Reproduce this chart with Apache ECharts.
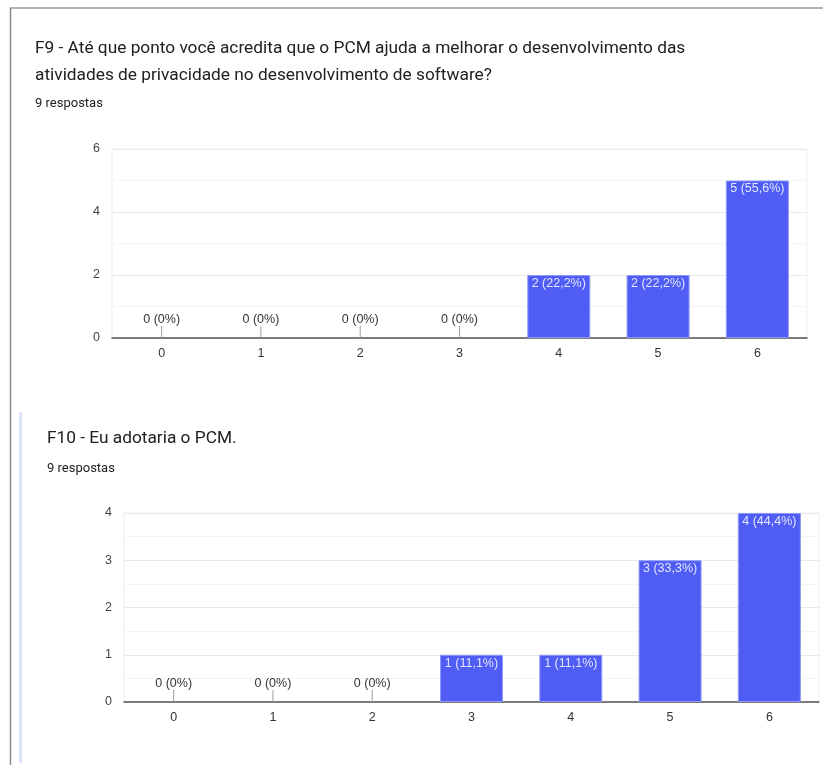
<!DOCTYPE html>
<html>
<head>
<meta charset="utf-8">
<style>
  html, body { margin: 0; padding: 0; background: #ffffff; }
  #chart { width: 823px; height: 765px; }
</style>
<script src="https://cdn.jsdelivr.net/npm/echarts@6/dist/echarts.min.js"></script>
</head>
<body>
<div id="chart"></div>
<script>
// Scale points (0–6) shared by both questions
const categories = ['0', '1', '2', '3', '4', '5', '6'];

// F9 answer counts per scale point
const f9Counts = [0, 0, 0, 0, 2, 2, 5];
const f9Total = 9;
const f9Ticks = [0, 2, 4, 6];

// F10 answer counts per scale point
const f10Counts = [0, 0, 0, 1, 1, 3, 4];
const f10Total = 9;
const f10Ticks = [0, 1, 2, 3, 4];

const f9Title = 'F9 - Até que ponto você acredita que o PCM ajuda a melhorar o desenvolvimento das\natividades de privacidade no desenvolvimento de software?';
const f10Title = 'F10 - Eu adotaria o PCM.';
const f9Subtitle = f9Total + ' respostas';
const f10Subtitle = f10Total + ' respostas';

const BAR = '#4f5df5';
const TITLE_FONT = 'Roboto, "Noto Sans", sans-serif';
const FONT = '"Liberation Sans", Arial, sans-serif';

function pctLabel(v, total) {
  if (v === 0) return '0 (0%)';
  return v + ' (' + (v / total * 100).toFixed(1).replace('.', ',') + '%)';
}

function barSeries(counts, total, axisIndex) {
  return {
    type: 'bar',
    xAxisIndex: axisIndex,
    yAxisIndex: axisIndex,
    barWidth: 63,
    data: counts.map(v => ({
      value: v,
      itemStyle: v === 0 ? { borderWidth: 0 } : {},
      label: v === 0
        ? { position: 'top', distance: 12, color: '#333333' }
        : { position: 'insideTop', distance: 2, color: '#e3e6ff' }
    })),
    itemStyle: { color: BAR, borderColor: '#8e98f8', borderWidth: 1 },
    label: {
      show: true,
      fontFamily: FONT,
      fontSize: 12.5,
      formatter: p => pctLabel(p.value, total)
    },
    silent: true
  };
}

// short stems from zero-value labels down to the axis
function stemSeries(counts, axisIndex) {
  return {
    type: 'custom',
    xAxisIndex: axisIndex,
    yAxisIndex: axisIndex,
    silent: true,
    z: 1,
    data: counts.map((v, i) => [i, v]),
    renderItem: (params, api) => {
      if (api.value(1) !== 0) return null;
      const p = api.coord([api.value(0), 0]);
      return {
        type: 'line',
        shape: { x1: p[0], y1: p[1], x2: p[0], y2: p[1] - 12 },
        style: { stroke: '#9e9e9e', lineWidth: 1 }
      };
    }
  };
}

function xAxis(gridIndex) {
  return {
    type: 'category',
    gridIndex,
    data: categories,
    axisTick: { show: false },
    axisLine: { lineStyle: { color: '#555555', width: 1.5 } },
    axisLabel: { color: '#333333', fontSize: 12.5, fontFamily: FONT, margin: 9 }
  };
}

function yAxis(gridIndex, ticks) {
  return {
    type: 'value',
    gridIndex,
    min: ticks[0],
    max: ticks[ticks.length - 1],
    interval: ticks[1] - ticks[0],
    axisLine: { show: false },
    axisTick: { show: false },
    axisLabel: { color: '#444444', fontSize: 12.5, fontFamily: FONT, margin: 12 },
    splitLine: { lineStyle: { color: '#e9e9e9' } },
    minorTick: { show: false, splitNumber: 2 },
    minorSplitLine: { show: true, lineStyle: { color: '#f4f4f4' } }
  };
}

const chart = echarts.init(document.getElementById('chart'), null, { renderer: 'canvas' });

const titleStyle = { fontFamily: TITLE_FONT, fontSize: 17.3, fontWeight: 'normal', color: '#202124', lineHeight: 27 };
const subStyle = { fontFamily: TITLE_FONT, fontSize: 13, fontWeight: 'normal', color: '#202124', lineHeight: 15 };

chart.setOption({
  backgroundColor: '#ffffff',
  animation: false,
  title: [
    {
      text: f9Title,
      subtext: f9Subtitle,
      left: 35, top: 35,
      padding: 0,
      itemGap: 7,
      textStyle: titleStyle,
      subtextStyle: subStyle
    },
    {
      text: f10Title,
      subtext: f10Subtitle,
      left: 47, top: 425,
      padding: 0,
      itemGap: 9,
      textStyle: titleStyle,
      subtextStyle: subStyle
    }
  ],
  grid: [
    { left: 112, right: 16, top: 149, height: 189, show: true, borderColor: '#eeeeee', borderWidth: 1 },
    { left: 124, right: 4, top: 513, height: 189, show: true, borderColor: '#eeeeee', borderWidth: 1 }
  ],
  xAxis: [xAxis(0), xAxis(1)],
  yAxis: [yAxis(0, f9Ticks), yAxis(1, f10Ticks)],
  series: [
    barSeries(f9Counts, f9Total, 0),
    stemSeries(f9Counts, 0),
    barSeries(f10Counts, f10Total, 1),
    stemSeries(f10Counts, 1)
  ],
  graphic: [
    // page frame
    { type: 'line', shape: { x1: 10, y1: 8, x2: 823, y2: 8 }, style: { stroke: '#9a9a9a', lineWidth: 1.5 } },
    { type: 'line', shape: { x1: 10.5, y1: 8, x2: 10.5, y2: 765 }, style: { stroke: '#8a8a8a', lineWidth: 1.5 } },
    // highlighted section marker of the second card
    { type: 'rect', shape: { x: 19, y: 412, width: 3, height: 351 }, style: { fill: '#dde5fb' } }
  ]
});
</script>
</body>
</html>
